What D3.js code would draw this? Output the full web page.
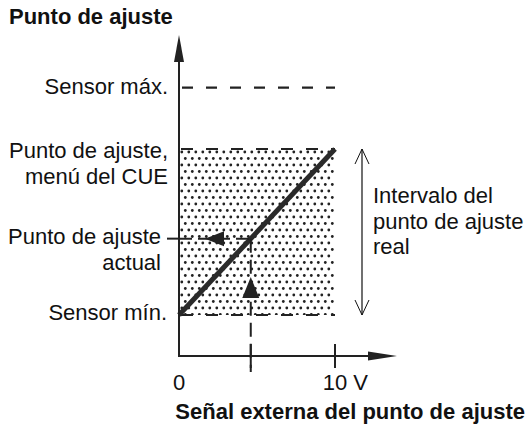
<!DOCTYPE html>
<html><head><meta charset="utf-8">
<script src="https://cdn.jsdelivr.net/npm/d3@7"></script>
<style>body{margin:0;background:#fff}svg{display:block}text{font-family:"Liberation Sans",Arial,sans-serif;fill:#111}</style>
</head><body>
<script>
// ---- data ----
const levelNames = ["Sensor mín.", "Punto de ajuste actual", "Punto de ajuste, menú del CUE", "Sensor máx."];
const levelValues = [0, 46, 100, 137];          // % of setpoint scale
const levelLines = [["Sensor mín."], ["Punto de ajuste", "actual"], ["Punto de ajuste,", "menú del CUE"], ["Sensor máx."]];
const xTickValues = [0, 10];
const xTickLabels = ["0", "10 V"];
const signalValue = 4.6;                          // external signal (V)
const lineX = [0, 10];                            // setpoint line from 0 V to 10 V
const lineY = [0, 100];
const rangeLabel = ["Intervalo del", "punto de ajuste", "real"];
const yTitle = "Punto de ajuste";
const xTitle = "Señal externa del punto de ajuste";

const W = 528, H = 428, FS = 22;
const x = d3.scaleLinear().domain([0, 10]).range([179, 335]);
const y = d3.scaleLinear().domain([0, 100]).range([315, 149]);
const xMax = x.invert(397), yMax = y.invert(35);
const ink = "#222";

const svg = d3.select("body").append("svg").attr("width", W).attr("height", H);
const defs = svg.append("defs");
const pat = defs.append("pattern").attr("id", "dots").attr("patternUnits", "userSpaceOnUse")
  .attr("width", 7).attr("height", 13).attr("x", 180).attr("y", 150);
pat.append("circle").attr("cx", 1.8).attr("cy", 2).attr("r", 1.4).attr("fill", "#222");
pat.append("circle").attr("cx", 5.3).attr("cy", 8.5).attr("r", 1.4).attr("fill", "#222");

const vMin = levelValues[0], vAct = levelValues[1], vMenu = levelValues[2], vMaxS = levelValues[3];

// shaded area
svg.append("rect").attr("x", x(0) + 1).attr("y", y(vMenu)).attr("width", x(10) - x(0) - 2)
  .attr("height", y(vMin) - y(vMenu)).attr("fill", "url(#dots)");

// dashed level lines
svg.append("line").attr("x1", x(0) + 3).attr("x2", x(10)).attr("y1", y(vMaxS)).attr("y2", y(vMaxS))
  .attr("stroke", ink).attr("stroke-width", 2.2).attr("stroke-dasharray", "11,13");
[vMenu, vMin].forEach(v => svg.append("line").attr("x1", x(0) + 2).attr("x2", x(10)).attr("y1", y(v)).attr("y2", y(v))
  .attr("stroke", ink).attr("stroke-width", 2.2).attr("stroke-dasharray", "12,13"));

// setpoint line
svg.append("line").attr("x1", x(lineX[0])).attr("y1", y(lineY[0])).attr("x2", x(lineX[1])).attr("y2", y(lineY[1]))
  .attr("stroke", "#2a2a2a").attr("stroke-width", 5);

// dashed guides for actual value
svg.append("line").attr("x1", x(signalValue)).attr("x2", x(signalValue)).attr("y1", y(vAct)).attr("y2", 372)
  .attr("stroke", ink).attr("stroke-width", 2).attr("stroke-dasharray", "14,7");
svg.append("line").attr("x1", x(0)).attr("x2", x(signalValue)).attr("y1", y(vAct)).attr("y2", y(vAct))
  .attr("stroke", ink).attr("stroke-width", 2).attr("stroke-dasharray", "13,6");
svg.append("line").attr("x1", x(0) - 12).attr("x2", x(0)).attr("y1", y(vAct)).attr("y2", y(vAct))
  .attr("stroke", ink).attr("stroke-width", 2);

// small arrowheads
const ax = x(signalValue), ay = y(vAct);
svg.append("path").attr("d", `M${ax},277 L${ax - 8.5},298 L${ax + 8.5},298 Z`).attr("fill", ink);
svg.append("path").attr("d", `M205,${ay} L224,${ay - 7.5} L224,${ay + 7.5} Z`).attr("fill", ink);

// axes
svg.append("path").attr("d", `M${x(0)},${y(yMax) + 20} L${x(0)},356 L${x(xMax) - 20},356`)
  .attr("fill", "none").attr("stroke", ink).attr("stroke-width", 2);
svg.append("path").attr("d", `M${x(0)},${y(yMax)} L${x(0) - 5},${y(yMax) + 27} L${x(0) + 5},${y(yMax) + 27} Z`).attr("fill", ink);
svg.append("path").attr("d", `M${x(xMax)},356 L${x(xMax) - 29},351.5 L${x(xMax) - 29},360.5 Z`).attr("fill", ink);
xTickValues.forEach(v => {
  if (v > 0) svg.append("line").attr("x1", x(v)).attr("x2", x(v)).attr("y1", 344).attr("y2", 368).attr("stroke", ink).attr("stroke-width", 2);
});
svg.append("line").attr("x1", x(signalValue)).attr("x2", x(signalValue)).attr("y1", 344).attr("y2", 368).attr("stroke", ink).attr("stroke-width", 2);

// x tick labels
svg.append("text").attr("x", x(xTickValues[0])).attr("y", 390).attr("text-anchor", "middle").attr("font-size", FS).text(xTickLabels[0]);
const t10 = svg.append("text").attr("y", 390).attr("font-size", FS).text(xTickLabels[1]);
t10.attr("x", x(xTickValues[1]) - FS * 0.556);

// level labels
const labelPos = [{r: 167, b: [320]}, {r: 161, b: [244, 270]}, {r: 168, b: [158, 184]}, {r: 168, b: [94]}];
levelLines.forEach((lines, i) => {
  lines.forEach((s, j) => svg.append("text").attr("x", labelPos[i].r).attr("y", labelPos[i].b[j])
    .attr("text-anchor", "end").attr("font-size", FS).text(s));
});

// range double arrow
const rx = 362;
svg.append("line").attr("x1", rx).attr("x2", rx).attr("y1", y(vMenu)).attr("y2", y(vMin)).attr("stroke", "#111").attr("stroke-width", 1.2);
svg.append("path").attr("d", `M${rx - 7},${y(vMenu) + 15} L${rx},${y(vMenu)} L${rx + 7},${y(vMenu) + 15}`).attr("fill", "none").attr("stroke", "#111").attr("stroke-width", 1);
svg.append("path").attr("d", `M${rx - 7},${y(vMin) - 15} L${rx},${y(vMin)} L${rx + 7},${y(vMin) - 15}`).attr("fill", "none").attr("stroke", "#111").attr("stroke-width", 1);
rangeLabel.forEach((s, j) => svg.append("text").attr("x", 373).attr("y", 203 + j * 25.5).attr("font-size", FS).text(s));

// titles
svg.append("text").attr("x", 9).attr("y", 24).attr("font-size", FS).attr("font-weight", "bold").text(yTitle);
svg.append("text").attr("x", 525).attr("y", 419).attr("text-anchor", "end").attr("font-size", FS).attr("font-weight", "bold").text(xTitle);
</script>
</body></html>
